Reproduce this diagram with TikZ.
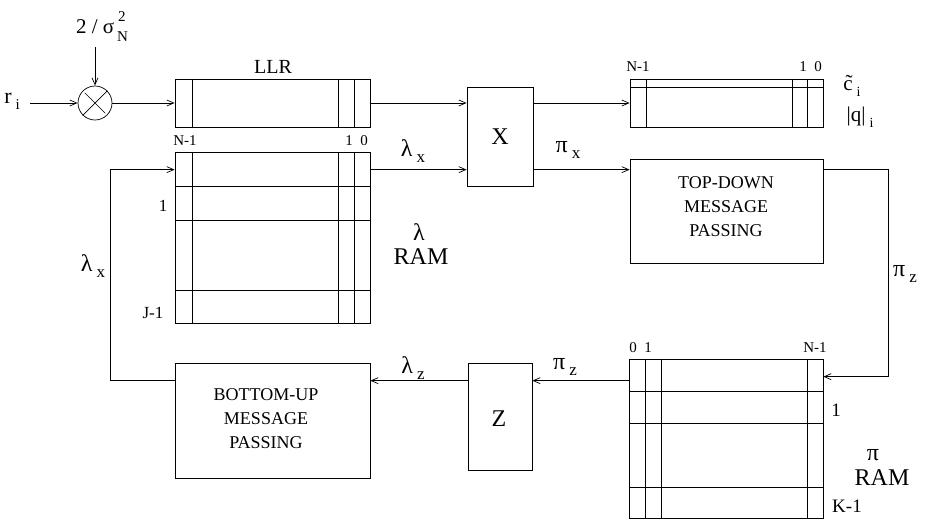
\documentclass[tikz,border=0pt]{standalone}
\usepackage{fontspec}
\setmainfont{Liberation Serif}
\usetikzlibrary{arrows.meta,calc}
\newcommand\fs[1]{\fontsize{#1}{#1}\selectfont}
\newcommand\subl[3][17]{#2\kern4pt\raisebox{-6pt}{\fs{#1}#3}}
\begin{document}
\begin{tikzpicture}[x=1pt,y=-1pt,line width=0.7pt,
  >={Straight Barb[length=7pt,width=6pt]},
  box/.style={draw,rectangle,inner sep=0pt},
  lab/.style={inner sep=0pt,font=\fs{15}},
  greek/.style={inner sep=0pt,font=\fs{24}},
  big/.style={inner sep=0pt,font=\fontsize{18}{24}\selectfont,align=center}]
\useasboundingbox (0,0) rectangle (926,520);

% ---------- input part ----------
\node[inner sep=0pt,font=\fs{21}] (gain) at (102,27)
  {2 / σ\kern3pt\rlap{\raisebox{12pt}{\fs{15}\kern1pt 2}}\raisebox{-8pt}{\fs{15}N}};
\coordinate (gs) at (95,47);
\node[circle,draw,minimum size=34pt,inner sep=0pt] (mul) at (95,103) {};
\draw[shorten >=3pt,shorten <=3pt] (mul.45) -- (mul.225) (mul.135) -- (mul.315);
\node[inner sep=0pt,font=\fs{22}] (ri) at (12,101) {\subl[15]{r}{i}};
\draw[->] (gs) -- (mul.north);
\draw[->] ($(ri.east |- mul)+(10,0)$) -- (mul.west);

% ---------- LLR register ----------
\node[box,minimum width=195pt,minimum height=48pt] (llr) at (272.5,103) {};
\draw (192,79) -- (192,127) (338,79) -- (338,127) (354,79) -- (354,127);
\node[inner sep=0pt,font=\fs{20}] (llrlab) at (273,67) {LLR};
\draw[->] (mul.east) -- (llr.west);

% ---------- lambda RAM ----------
\node[box,minimum width=195pt,minimum height=171pt] (lram) at (272.5,237.5) {};
\draw (192,152) -- (192,323) (338,152) -- (338,323) (354,152) -- (354,323);
\draw (175,186) -- (370,186) (175,220) -- (370,220) (175,290) -- (370,290);
\node[lab] (ln1) at (185,141) {N-1};
\node[lab] (l1) at (349,141) {1};
\node[lab] (l0) at (364,141) {0};
\node[lab,font=\fs{17}] (lr1) at (163,206) {1};
\node[lab,font=\fs{17}] (lrj) at (153,313) {J-1};
\node[greek] (lamram) at (419,232) {λ};
\node[inner sep=0pt,font=\fs{24}] (lamramtxt) at (421,257) {RAM};

% ---------- X box ----------
\node[box,minimum width=66pt,minimum height=99pt] (X) at (500,136.5) {};
\node[inner sep=0pt,font=\fs{24}] (Xlab) at (500,137) {X};

% ---------- c register ----------
\node[box,minimum width=193pt,minimum height=48pt] (creg) at (726.5,103) {};
\draw (630,87) -- (823,87);
\draw (646,79) -- (646,127) (792,79) -- (792,127) (807,79) -- (807,127);
\node[lab] (cn1) at (638,67) {N-1};
\node[lab] (c1) at (803,67) {1};
\node[lab] (c0) at (818,67) {0};
\node[inner sep=0pt,font=\fs{21}] (ctil) at (852,86) {\subl[14]{\~c}{i}};
\node[inner sep=0pt,font=\fs{21}] (qabs) at (860,117) {\subl[14]{|q|}{i}};

\draw[->] (llr.east) -- (llr.east -| X.west);
\draw[->] (creg.west -| X.east) -- (creg.west);

% ---------- top-down ----------
\node[box,minimum width=193pt,minimum height=104pt] (td) at (726.5,211) {};
\node[big] (tdtxt) at (726,207) {TOP-DOWN\\MESSAGE\\PASSING};

\coordinate (lin) at ($(lram.north west)+(0,18)$);
\coordinate (lout) at ($(lram.north east)+(0,18)$);
\draw[->] (lout) -- (lout -| X.west);
\draw[->] (lout -| X.east) -- (lout -| td.west);
\node[greek] (lamx) at (413,151) {\subl{λ}{x}};
\node[greek] (pix) at (568,150) {\subl{π}{x}};

% ---------- pi RAM ----------
\node[box,minimum width=194pt,minimum height=159pt] (pram) at (726,438.5) {};
\draw (645,359) -- (645,518) (661,359) -- (661,518) (807,359) -- (807,518);
\draw (629,391) -- (823,391) (629,423) -- (823,423) (629,487) -- (823,487);
\node[lab] (p0) at (633,348) {0};
\node[lab] (p1) at (648,348) {1};
\node[lab] (pn1) at (815,348) {N-1};
\node[inner sep=0pt,font=\fs{19}] (pr1) at (836,410) {1};
\node[inner sep=0pt,font=\fs{19}] (prk) at (847,506) {K-1};
\node[greek] (piram) at (873,455) {π};
\node[inner sep=0pt,font=\fs{24}] (piramtxt) at (882,478) {RAM};

\coordinate (rx) at (888,0);
\coordinate (pin) at ($(pram.north east)+(0,18)$);
\draw[->] (lout -| td.east) -- (lout -| rx) -- (rx |- pin) -- (pin);
\node[greek] (piz1) at (905,274) {\subl{π}{z}};

% ---------- Z and bottom-up ----------
\node[box,minimum width=64pt,minimum height=107pt] (Z) at (500,416.5) {};
\node[inner sep=0pt,font=\fs{24}] (Zlab) at (499,419) {Z};
\node[box,minimum width=195pt,minimum height=115pt] (bu) at (272.5,420.5) {};
\node[big] (butxt) at (266,419) {BOTTOM-UP\\MESSAGE\\PASSING};

\coordinate (pout) at ($(pram.north west)+(0,22)$);
\coordinate (lx) at (110,0);
\draw[->] (pout) -- (pout -| Z.east);
\draw[->] (pout -| Z.west) -- (pout -| bu.east);
\draw[->] (pout -| bu.west) -- (pout -| lx) -- (lx |- lin) -- (lin);
\node[greek] (lamz) at (413,368) {\subl{λ}{z}};
\node[greek] (piz2) at (565,367) {\subl{π}{z}};
\node[greek] (lamx2) at (93,266) {\subl{λ}{x}};
\end{tikzpicture}
\end{document}
